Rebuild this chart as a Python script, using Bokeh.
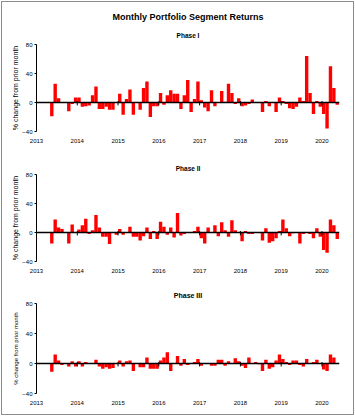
from bokeh.plotting import figure
from bokeh.models import Range1d, FixedTicker, Span, Title, ColumnDataSource
from bokeh.layouts import column
from bokeh.embed import file_html
from bokeh.resources import INLINE

# ---------------- data ----------------
first_year = 2013
first_month_index = 4  # May 2013 (months counted from Jan 2013)

phase1 = [-19, 26, 6, 0, 0, -12, -2, 7, 7, -6, -5, -4, 10, 22, -9, -9, -6, -10, -10, 0,
          12, -17, 5, 18, -17, 0, -10, 20, 29, -20, -5, -5, 13, -3, 10, 17, 12, 12, -9, 10,
          31, -13, 5, 29, 3, -7, -12, 17, -5, 0, 16, 1, 26, 13, -2, 6, -5, -4, -2, 4,
          0, 0, -13, 2, -5, 0, -13, 7, 2, -2, -8, -9, -6, 7, 2, 64, 13, -16, 2, -6,
          -16, -36, 50, 20, -3]

phase2 = [-15, 18, 7, 5, 0, -15, 11, 0, 4, 10, 19, -2, 3, 24, 7, -6, -6, -16, 0, -3,
          5, -3, 0, 8, -6, -6, -11, -5, 7, -9, 2, -9, 15, 8, -3, 7, -7, 27, -4, -2,
          0, 0, 2, 8, -8, -15, 7, 0, 10, -5, 14, 3, -6, 17, 3, 0, -12, 2, -2, -2,
          0, 0, -11, 6, -14, -12, -8, 2, 18, 6, -5, -1, 0, -15, -2, 0, -2, -8, 6, -6,
          -24, -28, 18, 10, -9]

phase3 = [-11, 12, 4, -2, 0, -4, 3, -4, 3, -4, 2, 0, 0, 5, -4, -7, -5, -7, -6, 0,
          4, -4, 3, 4, -10, 0, -5, -5, 8, -7, -7, -7, 4, 8, 15, -10, 0, 10, -3, 6,
          -2, 0, 2, 6, -3, 0, 0, -3, -3, 5, 5, -3, 3, 0, 7, 3, -3, -6, 8, 0,
          2, -1, -10, 5, -7, -5, 4, 12, 6, 2, -2, 4, 4, -2, -4, 6, 0, 2, 5, 0,
          -8, -10, 12, 8]

year_ticks = [2013, 2014, 2015, 2016, 2017, 2018, 2019, 2020]
y_ticks = [-40, 0, 40, 80]
phase_names = ["Phase I", "Phase II", "Phase III"]
main_title = "Monthly Portfolio Segment Returns"
y_label = "% change from prior month"

FONT = "Liberation Sans"
W = 351


def month_centers(values):
    return [first_year + (first_month_index + i + 0.5) / 12.0 for i in range(len(values))]


def make_panel(values, name, height, top, bottom, sub_size, sub_standoff,
               label_size, extra_title=None):
    p = figure(width=W, height=height, output_backend="svg", toolbar_location=None,
               x_range=Range1d(2013.0, 2020.43), y_range=Range1d(-40, 80),
               min_border_left=34, min_border_right=14,
               min_border_top=top, min_border_bottom=bottom,
               title=None)
    p.add_layout(Title(text=name, align="center", text_font=FONT,
                       text_font_size=sub_size, text_font_style="bold",
                       text_color="black", standoff=sub_standoff), "above")
    if extra_title is not None:
        p.add_layout(extra_title, "above")
    # y-axis label as a vertical title on the left (kept on one line)
    p.add_layout(Title(text=y_label, align="center", text_font=FONT,
                       text_font_size=label_size, text_font_style="normal",
                       text_color="black", standoff=2), "left")
    p.outline_line_color = None
    p.xgrid.visible = False
    p.ygrid.visible = False
    p.background_fill_color = "white"
    p.border_fill_color = "white"

    src = ColumnDataSource(dict(x=month_centers(values), top=values))
    p.vbar(x="x", top="top", bottom=0, width=1 / 12.0, source=src,
           fill_color="#ff0000", line_color=None)

    p.add_layout(Span(location=0, dimension="width", line_color="black", line_width=1.5))
    tick_years = year_ticks[1:]
    p.segment(x0=tick_years, y0=[2] * len(tick_years), x1=tick_years,
              y1=[-4] * len(tick_years), line_color="black", line_width=1)

    xa = p.xaxis[0]
    xa.ticker = FixedTicker(ticks=year_ticks)
    xa.axis_line_color = None
    xa.major_tick_line_color = None
    xa.minor_tick_line_color = None
    xa.major_label_text_font = FONT
    xa.major_label_text_font_size = "6px"
    xa.major_label_text_color = "black"
    xa.major_label_standoff = 1

    ya = p.yaxis[0]
    ya.ticker = FixedTicker(ticks=y_ticks)
    ya.axis_line_color = "black"
    ya.axis_line_width = 1
    ya.major_tick_line_color = "black"
    ya.major_tick_out = 2
    ya.major_tick_in = 0
    ya.minor_tick_line_color = None
    ya.major_label_text_font = FONT
    ya.major_label_text_font_size = "6px"
    ya.major_label_text_color = "black"
    ya.major_label_standoff = 2
    return p


main = Title(text=main_title, align="center", text_font=FONT, text_font_size="9px",
             text_font_style="bold", text_color="black", standoff=5)

p1 = make_panel(phase1, phase_names[0], 148, 42, 19, "6.5px", 11, "7px", extra_title=main)
p2 = make_panel(phase2, phase_names[1], 128, 24, 17, "6.5px", 6, "7px")
p3 = make_panel(phase3, phase_names[2], 136, 25, 21, "7px", 9, "6px")

layout = column(p1, p2, p3, spacing=0,
                styles={"border": "1px solid #8c8c8c", "margin-left": "1px", "margin-top": "1px"})

open("out.html", "w").write(file_html(layout, INLINE))
